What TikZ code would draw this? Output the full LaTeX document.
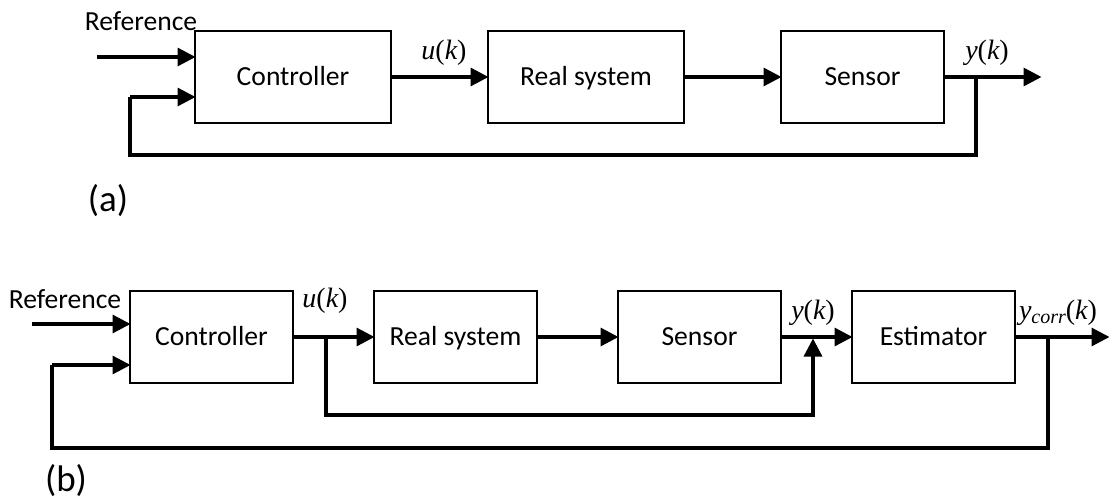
\documentclass[tikz,border=0pt]{standalone}
\usepackage{fontspec}
\setmainfont{Carlito}
\newfontfamily\mathserif[Ligatures=TeX]{Liberation Serif}
\usetikzlibrary{positioning}
\usetikzlibrary{arrows.meta}
\newcommand{\sig}[1]{{\fontsize{28}{28}\mathserif\itshape #1}}
\newcommand{\sigk}[1]{\sig{#1}{\fontsize{28}{28}\mathserif(}\sig{k}{\fontsize{28}{28}\mathserif)}}
\begin{document}
\begin{tikzpicture}
		[x=1pt, y=-1pt, font=\fontsize{27.6}{27.6}\selectfont,
		mainA/.style = {draw, line width=1.5pt, minimum width=196pt, minimum height=92pt, inner sep=0pt, outer sep=0pt, text height=18pt, text depth=1pt},
		mainB/.style = {mainA, minimum width=163pt},
		txt/.style = {inner sep=0pt, outer sep=0pt},
		wire/.style = {line width=3.3pt},
		link/.style = {wire, -{Triangle[length=18pt, width=18pt]}, shorten >=-0.5pt}]
	\useasboundingbox (0,0) rectangle (1109,500);
	% upper loop
	\node[mainA] (ctrlA) at (293,77) {Controller};
	\node[mainA] (realA) [right=97pt of ctrlA] {Real system};
	\node[mainB] (sensA) [right=97pt of realA] {Sensor};
	\node[txt] (refA) at (141,21) {Reference};
	\node[txt] (uA) at (444,53) {\sigk{u}};
	\node[txt] (yA) at (987,53) {\sigk{y}};
	\node[txt, font=\fontsize{37}{37}\selectfont] (capA) at (108,201) {(a)};
	\coordinate (inA) at (97,57);
	\coordinate (fbA) at (130,97);
	\coordinate (outA) at (1041,77);
	\coordinate (tapA) at (976,77);
	\draw[link] (inA) -- (inA -| ctrlA.west);
	\draw[link] (fbA) -- (fbA -| ctrlA.west);
	\draw[link] (ctrlA) -- (realA);
	\draw[link] (realA) -- (sensA);
	\draw[link] (sensA) -- (outA);
	\draw[wire] (tapA) |- (130,155) -- (fbA);
	% lower loop
	\node[mainB] (ctrlB) at (211.5,337) {Controller};
	\node[mainB] (realB) [right=81pt of ctrlB] {Real system};
	\node[mainB] (sensB) [right=81pt of realB] {Sensor};
	\node[mainB] (estB) [right=71pt of sensB] {Estimator};
	\node[txt] (refB) at (65,299) {Reference};
	\node[txt] (uB) at (325,301) {\sigk{u}};
	\node[txt] (yB) at (813,313) {\sigk{y}};
	\node[txt] (ycB) at (1058,313) {\sig{y}{\fontsize{20}{20}\mathserif\itshape\raisebox{-4pt}{corr}}{\fontsize{28}{28}\mathserif(}\sig{k}{\fontsize{28}{28}\mathserif)}};
	\node[txt, font=\fontsize{37}{37}\selectfont] (capB) at (66,481) {(b)};
	\coordinate (inB) at (32,324);
	\coordinate (fbB) at (52,365);
	\coordinate (outB) at (1109,337);
	\coordinate (tapB) at (1048,337);
	\coordinate (splitB) at (326,337);
	\coordinate (joinB) at (813,339);
	\draw[link] (inB) -- (inB -| ctrlB.west);
	\draw[link] (fbB) -- (fbB -| ctrlB.west);
	\draw[link] (ctrlB) -- (realB);
	\draw[link] (realB) -- (sensB);
	\draw[link] (sensB) -- (estB);
	\draw[link] (estB) -- (outB);
	\draw[link] (splitB) |- (600,415) -| (joinB);
	\draw[wire] (tapB) |- (52,448) -- (fbB);
\end{tikzpicture}
\end{document}
